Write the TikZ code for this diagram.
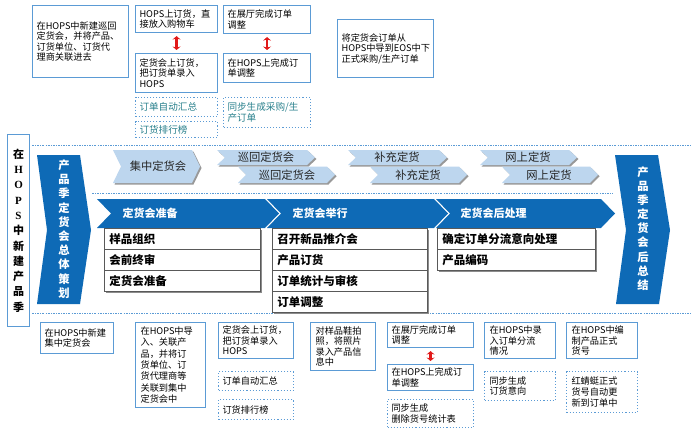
\documentclass[tikz,border=0pt]{standalone}
\usepackage{fontspec}
\setmainfont{Noto Sans CJK SC}
\newfontfamily\serifl{Liberation Serif}
\usetikzlibrary{arrows.meta}
\definecolor{bblue}{RGB}{91,155,213}
\definecolor{dblue}{RGB}{14,106,182}
\definecolor{lblue}{RGB}{189,214,238}
\definecolor{tealtxt}{RGB}{40,128,140}
\definecolor{rarrow}{RGB}{225,25,25}
\newcommand{\chevr}[6]{%
  \fill[#1] (#2,#3) -- ({#4-#6},#3) -- (#4,{(#3+#5)/2}) -- ({#4-#6},#5) -- (#2,#5) -- ({#2+#6},{(#3+#5)/2}) -- cycle;}
\begin{document}
\begin{tikzpicture}[x=1pt,y=-1pt,
  bx/.style={draw=bblue, line width=1.1pt, fill=white, inner xsep=4pt, inner ysep=1pt,
    align=left, anchor=north west, font=\fontsize{9.2}{10.6}\selectfont},
  dbx/.style={bx, dotted, line width=1pt},
  tbx/.style={dbx, text=tealtxt, font=\fontsize{9.6}{11}\selectfont},
  li/.style={draw=black!65, line width=0.8pt, fill=white, inner xsep=5pt, inner ysep=0pt,
    align=left, anchor=north west, minimum height=21pt, font=\fontsize{11.5}{13}\selectfont\bfseries},
  ltxt/.style={font=\fontsize{11.3}{12}\selectfont, text=black!85},
  dtxt/.style={font=\fontsize{11}{12}\selectfont\bfseries, text=white, anchor=west},
  sep/.style={draw=bblue, line width=1pt, dash pattern=on 2pt off 1.2pt on 0.8pt off 1.2pt},
  rarr/.style={draw=rarrow, line width=2.6pt, {Stealth[length=3.5pt,width=8pt]}-{Stealth[length=3.5pt,width=8pt]}, shorten >=3pt, shorten <=3pt}
]
\useasboundingbox (0,0) rectangle (700,433);
\fill[white] (0,0) rectangle (700,433);

% ---------- top boxes ----------
\node[bx, text width=88pt, minimum height=72pt] (t1) at (32,5) {在HOPS中新建巡回\\定货会，并将产品、\\订货单位、订货代\\理商关联进去};
\node[bx, text width=74pt, minimum height=27pt] (t2) at (135,5) {HOPS上订货，直\\接放入购物车};
\node[bx, text width=74pt, minimum height=39pt] (t3) at (135,53) {定货会上订货，\\把订货单录入\\HOPS};
\node[tbx, text width=74pt, minimum height=19pt] (t4) at (135,97) {订单自动汇总};
\node[tbx, text width=74pt, minimum height=16pt] (t5) at (135,121) {订货排行榜};
\node[bx, text width=79pt, minimum height=28pt] (t6) at (223,5) {在展厅完成订单\\调整};
\node[bx, text width=79pt, minimum height=29pt] (t7) at (223,53) {在HOPS上完成订\\单调整};
\node[tbx, text width=79pt, minimum height=30pt] (t8) at (223,97) {同步生成采购/生\\产订单};
\node[bx, text width=88pt, minimum height=58pt, inner xsep=4pt] (t9) at (337,19) {将定货会订单从\\HOPS中导到EOS中下\\正式采购/生产订单};
\draw[rarr] (t2.south) -- (t3.north);
\draw[rarr] (t6.south) -- (t7.north);

% ---------- separators ----------
\coordinate (s1a) at (32,145); \coordinate (s1b) at (692,145);
\coordinate (s2a) at (92,193); \coordinate (s2b) at (613,193);
\coordinate (s3a) at (32,313); \coordinate (s3b) at (692,313);
\draw[sep] (s1a) -- (s1b);
\draw[sep] (s2a) -- (s2b);
\draw[sep] (s3a) -- (s3b);

% ---------- left vertical box ----------
\node[draw=bblue, line width=1.1pt, fill=white, minimum width=22pt, minimum height=192pt, anchor=north west,
  align=center, inner sep=0pt, font=\fontsize{11}{15.3}\selectfont\bfseries] (lv) at (7,134)
  {在\\{\serifl H}\\{\serifl O}\\{\serifl P}\\{\serifl S}\\中\\新\\建\\产\\品\\季};

% ---------- big chevrons ----------
\fill[dblue] (37,155) -- (80,155) -- (91,230) -- (80,304) -- (37,304) -- (47,230) -- cycle;
\node[align=center, inner sep=0pt, text=white, font=\fontsize{11.3}{14.2}\selectfont\bfseries] (bigl) at (64,229)
  {产\\品\\季\\定\\货\\会\\总\\体\\策\\划};
\fill[dblue] (615,155) -- (658,155) -- (670,230) -- (659,304) -- (616,304) -- (626,230) -- cycle;
\node[align=center, inner sep=0pt, text=white, font=\fontsize{11.3}{14.1}\selectfont\bfseries] (bigr) at (643,228.5)
  {产\\品\\季\\定\\货\\会\\后\\总\\结};

% ---------- light chevrons ----------
\chevr{black!40}{114.5}{151.5}{201.5}{184.5}{8}
\chevr{lblue}{113}{150}{200}{183}{8}
\node[ltxt] (lc1) at (158,166.5) {集中定货会};
\chevr{black!40}{218.5}{151.5}{316.5}{166.5}{8}
\chevr{lblue}{217}{150}{315}{165}{8}
\node[ltxt] (lc2) at (266,157.5) {巡回定货会};
\chevr{black!40}{239.5}{168}{336.5}{184.5}{8}
\chevr{lblue}{238}{166.5}{335}{183}{8}
\node[ltxt] (lc3) at (287,174.8) {巡回定货会};
\chevr{black!40}{349.5}{151.5}{448.5}{166.5}{8}
\chevr{lblue}{348}{150}{447}{165}{8}
\node[ltxt] (lc4) at (397,157.5) {补充定货};
\chevr{black!40}{371.5}{168}{468.5}{184.5}{8}
\chevr{lblue}{370}{166.5}{467}{183}{8}
\node[ltxt] (lc5) at (418,174.8) {补充定货};
\chevr{black!40}{481.5}{151.5}{578.5}{166.5}{8}
\chevr{lblue}{480}{150}{577}{165}{8}
\node[ltxt] (lc6) at (528,157.5) {网上定货};
\chevr{black!40}{503.5}{168}{599.5}{184.5}{8}
\chevr{lblue}{502}{166.5}{598}{183}{8}
\node[ltxt] (lc7) at (549,174.8) {网上定货};

% ---------- dark chevrons ----------
\chevr{dblue}{97}{199}{279}{228}{14}
\node[dtxt] (dc1) at (119,213.5) {定货会准备};
\chevr{dblue}{267}{199}{448}{228}{14}
\node[dtxt] (dc2) at (289,213.5) {定货会举行};
\chevr{dblue}{436}{199}{615}{228}{14}
\node[dtxt] (dc3) at (457,213.5) {定货会后处理};

% ---------- lists ----------
\fill[black!45] (105.5,229.5) rectangle (261.8,292.8);
\node[li, text width=146pt] (p1) at (104,228) {样品组织};
\node[li, text width=146pt] (p2) at (104,249) {会前终审};
\node[li, text width=146pt] (p3) at (104,270) {定货会准备};
\fill[black!45] (273.5,229.5) rectangle (428.8,313.8);
\node[li, text width=145pt] (q1) at (272,228) {召开新品推介会};
\node[li, text width=145pt] (q2) at (272,249) {产品订货};
\node[li, text width=145pt] (q3) at (272,270) {订单统计与审核};
\node[li, text width=145pt] (q4) at (272,291) {订单调整};
\fill[black!45] (438.5,229.5) rectangle (596.8,271.8);
\node[li, text width=148pt] (r1) at (437,228) {确定订单分流意向处理};
\node[li, text width=148pt] (r2) at (437,249) {产品编码};

% ---------- bottom boxes ----------
\node[bx, text width=65pt, minimum height=31pt] (b1) at (40,322) {在HOPS中新建\\集中定货会};
\node[bx, text width=60pt, minimum height=85pt, inner xsep=5pt, font=\fontsize{9.2}{11.4}\selectfont] (b2) at (135,322)
  {在HOPS中导\\入、关联产\\品，并将订\\货单位、订\\货代理商等\\关联到集中\\定货会中};
\node[bx, text width=67pt, minimum height=36pt] (b3) at (218,322) {定货会上订货，\\把订货单录入\\HOPS};
\node[dbx, text width=67pt, minimum height=19pt] (b4) at (218,371) {订单自动汇总};
\node[dbx, text width=67pt, minimum height=20pt] (b5) at (218,399) {订货排行榜};
\node[bx, text width=55pt, minimum height=48pt, inner xsep=5pt] (b6) at (310,322) {对样品鞋拍\\照，将照片\\录入产品信\\息中};
\node[bx, text width=78pt, minimum height=25pt] (b7) at (387,322) {在展厅完成订单\\调整};
\node[bx, text width=78pt, minimum height=26pt] (b8) at (387,364) {在HOPS上完成订\\单调整};
\node[dbx, text width=78pt, minimum height=28pt] (b9) at (387,399) {同步生成\\删除货号统计表};
\draw[rarr] (b7.south) -- (b8.north);
\node[bx, text width=61pt, minimum height=36pt, inner xsep=5pt] (b10) at (484,322) {在HOPS中录\\入订单分流\\情况};
\node[dbx, text width=61pt, minimum height=29pt, inner xsep=5pt] (b11) at (484,371) {同步生成\\订货意向};
\node[bx, text width=61pt, minimum height=36pt, inner xsep=5pt] (b12) at (566,322) {在HOPS中编\\制产品正式\\货号};
\node[dbx, text width=61pt, minimum height=41pt, inner xsep=5pt] (b13) at (566,371) {红蜻蜓正式\\货号自动更\\新到订单中};
\end{tikzpicture}
\end{document}
